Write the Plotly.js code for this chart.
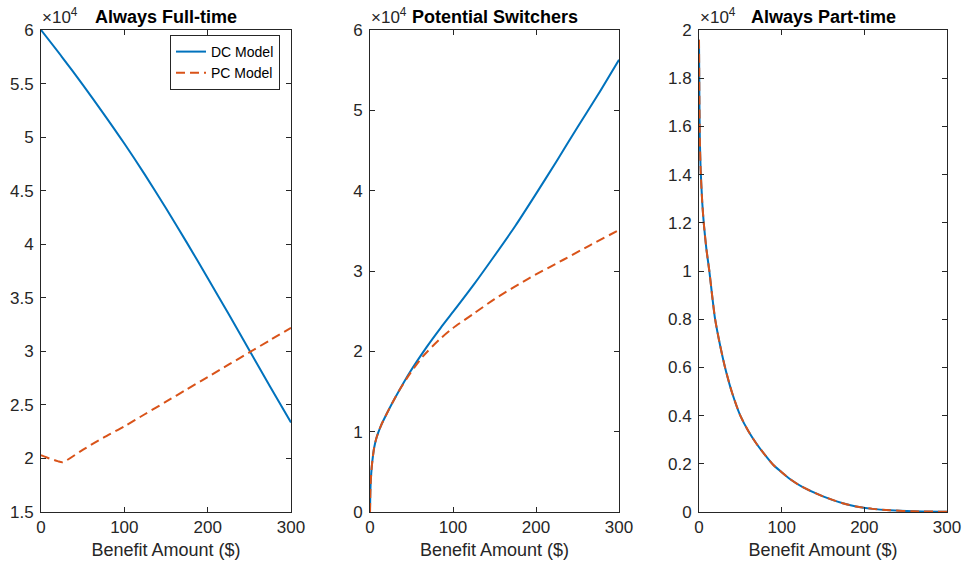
<!DOCTYPE html>
<html>
<head>
<meta charset="utf-8">
<script src="https://cdn.plot.ly/plotly-3.0.1.min.js"></script>
<style>html,body{margin:0;padding:0;background:#fff;}#chart{width:969px;height:571px;}</style>
</head>
<body>
<div id="chart"></div>
<script>
// ---- Data (raw values; axes display in units of 10^4) ----
const SCALE = 1e4;

// Panel 1: Always Full-time
const ft_dc_x = [0, 25, 50, 75, 100, 125, 150, 175, 200, 225, 250, 275, 300];
const ft_dc_y = [60000, 57500, 54900, 52200, 49400, 46450, 43350, 40150, 36850, 33500, 30100, 26700, 23350];
const ft_pc_x = [0, 10, 20, 26, 50, 75, 100, 125, 150, 175, 200, 225, 250, 275, 300];
const ft_pc_y = [20300, 20000, 19750, 19650, 20800, 21950, 23000, 24150, 25300, 26450, 27600, 28750, 29900, 31050, 32200];

// Panel 2: Potential Switchers
const sw_dc_x = [0, 0.5, 1, 2, 3, 5, 8, 13, 20, 27, 35, 48, 68, 85, 100, 125, 150, 175, 200, 225, 250, 275, 300];
const sw_dc_y = [0, 2800, 4000, 5500, 6500, 8000, 9300, 10700, 12200, 13600, 15100, 17400, 20500, 22900, 24900, 28300, 31900, 35600, 39600, 43700, 47900, 52000, 56300];
const sw_pc_x = [0, 0.5, 1, 2, 3, 5, 8, 13, 20, 27, 35, 48, 64, 84, 100, 125, 150, 190, 233, 265, 300];
const sw_pc_y = [0, 2800, 4000, 5500, 6500, 8000, 9300, 10700, 12200, 13600, 15100, 17200, 19400, 21500, 22900, 24700, 26500, 29000, 31400, 33200, 35100];

// Panel 3: Always Part-time
const pt_dc_x = [0, 0.5, 1, 2, 4, 6, 9, 12.5, 16, 19.5, 25, 31.5, 40, 50, 60, 70, 80, 90, 100, 110, 125, 150, 175, 190, 210, 231, 260, 300];
const pt_dc_y = [19600, 17000, 15500, 14200, 12800, 11900, 10900, 10000, 8950, 8000, 7000, 6000, 4950, 4000, 3340, 2810, 2360, 1950, 1650, 1370, 1040, 650, 350, 230, 130, 70, 30, 10];
const pt_pc_x = [0, 0.5, 1, 2, 4, 6, 9, 12.5, 16, 19.5, 25, 31.5, 40, 50, 60, 70, 80, 90, 100, 110, 125, 150, 175, 190, 210, 231, 260, 300];
const pt_pc_y = [19600, 17000, 15500, 14200, 12800, 11900, 10900, 10000, 8950, 8000, 7000, 6000, 4950, 4000, 3340, 2810, 2360, 1950, 1650, 1370, 1040, 650, 350, 230, 130, 70, 30, 10];

const titles = ['Always Full-time', 'Potential Switchers', 'Always Part-time'];
const xLabel = 'Benefit Amount ($)';
const seriesNames = ['DC Model', 'PC Model'];

// ---- Styling ----
const BLUE = '#0072BD', ORANGE = '#D95319', AX = '#262626';
const FONT = 'Liberation Sans, Arial, Helvetica, sans-serif';
const sc = a => a.map(v => v / SCALE);

function dcTrace(x, y, xa, ya, show) {
  return {x: x, y: sc(y), xaxis: xa, yaxis: ya, type: 'scatter', mode: 'lines',
    name: seriesNames[0], showlegend: show, line: {color: BLUE, width: 2, shape: 'spline', smoothing: 0.7}};
}
function pcTrace(x, y, xa, ya, show) {
  return {x: x, y: sc(y), xaxis: xa, yaxis: ya, type: 'scatter', mode: 'lines',
    name: seriesNames[1], showlegend: show, line: {color: ORANGE, width: 2, dash: '9px,5px', shape: 'spline', smoothing: 0.7}};
}

const traces = [
  dcTrace(ft_dc_x, ft_dc_y, 'x', 'y', true),
  pcTrace(ft_pc_x, ft_pc_y, 'x', 'y', true),
  dcTrace(sw_dc_x, sw_dc_y, 'x2', 'y2', false),
  pcTrace(sw_pc_x, sw_pc_y, 'x2', 'y2', false),
  dcTrace(pt_dc_x, pt_dc_y, 'x3', 'y3', false),
  pcTrace(pt_pc_x, pt_pc_y, 'x3', 'y3', false)
];

const W = 969, H = 571;
const xDom = [[41, 291], [370, 619], [699, 947]].map(d => [d[0] / W, d[1] / W]);
const yDom = [1 - 512 / H, 1 - 30 / H];

function xAxis(i, anchor) {
  return {domain: xDom[i], anchor: anchor, range: [0, 300], tickvals: [0, 100, 200, 300],
    ticks: 'inside', ticklen: 5, tickcolor: AX, showline: true, linecolor: AX, linewidth: 1,
    mirror: 'ticks', showgrid: false, zeroline: false, fixedrange: true,
    tickfont: {family: FONT, size: 17, color: AX},
    title: {text: xLabel, font: {family: FONT, size: 18, color: AX}, standoff: 6}};
}
function yAxis(i, anchor, range, dtick) {
  return {domain: yDom, anchor: anchor, range: range, dtick: dtick, tick0: 0,
    ticks: 'inside', ticklen: 5, tickcolor: AX, showline: true, linecolor: AX, linewidth: 1,
    mirror: 'ticks', showgrid: false, zeroline: false, fixedrange: true, ticklabelstandoff: 3,
    tickfont: {family: FONT, size: 17, color: AX}};
}

const annotations = [];
for (let i = 0; i < 3; i++) {
  annotations.push({xref: 'paper', yref: 'paper', x: xDom[i][0] - 1 / W, y: yDom[1] + 1 / H,
    xanchor: 'left', yanchor: 'bottom', showarrow: false, text: '×10<sup>4</sup>',
    font: {family: FONT, size: 17, color: AX}});
  annotations.push({xref: 'paper', yref: 'paper', x: (xDom[i][0] + xDom[i][1]) / 2, y: yDom[1] + 1 / H,
    xanchor: 'center', yanchor: 'bottom', showarrow: false, text: '<b>' + titles[i] + '</b>',
    font: {family: FONT, size: 18, color: '#000'}});
}

const layout = {
  width: W, height: H, margin: {l: 0, r: 0, t: 0, b: 0},
  paper_bgcolor: '#fff', plot_bgcolor: '#fff',
  showlegend: true,
  legend: {x: 170 / W, y: 1 - 35 / H, xanchor: 'left', yanchor: 'top',
    bordercolor: AX, borderwidth: 1, bgcolor: '#fff',
    font: {family: FONT, size: 14, color: '#000'}, tracegroupgap: 0, itemwidth: 30},
  xaxis: xAxis(0, 'y'), yaxis: yAxis(0, 'x', [1.5, 6], 0.5),
  xaxis2: xAxis(1, 'y2'), yaxis2: yAxis(1, 'x2', [0, 6], 1),
  xaxis3: xAxis(2, 'y3'), yaxis3: yAxis(2, 'x3', [0, 2], 0.2),
  annotations: annotations
};

Plotly.newPlot('chart', traces, layout, {staticPlot: true, displayModeBar: false});
</script>
</body>
</html>
